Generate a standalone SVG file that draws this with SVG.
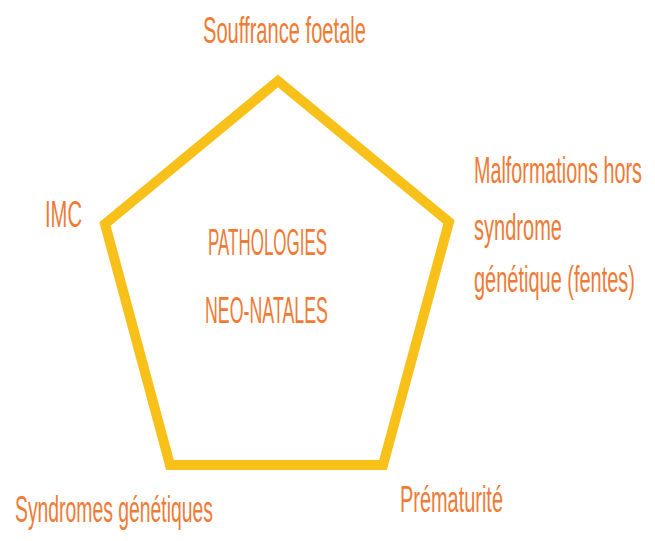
<svg xmlns="http://www.w3.org/2000/svg" width="655" height="541" viewBox="0 0 655 541">
  <style>
    .lbl { font-family: "Liberation Sans", "DejaVu Sans", sans-serif; font-size: 36px; fill: #EE7B36; }
    .edge { fill: none; stroke: #F7C11A; stroke-width: 10; stroke-linejoin: miter; }
  </style>
  <rect width="655" height="541" fill="#FFFFFF"/>
  <g id="connectors">
    <polygon class="edge" points="278,81 449,222 383,465 170,465 105,224"/>
  </g>
  <g id="center">
    <text class="lbl" x="208" y="255" textLength="119" lengthAdjust="spacingAndGlyphs">PATHOLOGIES</text>
    <text class="lbl" x="205" y="323" textLength="123" lengthAdjust="spacingAndGlyphs">NEO-NATALES</text>
  </g>
  <g id="node-souffrance">
    <text class="lbl" x="203" y="43" textLength="163" lengthAdjust="spacingAndGlyphs">Souffrance foetale</text>
  </g>
  <g id="node-malformations">
    <text class="lbl" x="474" y="183" textLength="168" lengthAdjust="spacingAndGlyphs">Malformations hors</text>
    <text class="lbl" x="474" y="240" textLength="88" lengthAdjust="spacingAndGlyphs">syndrome</text>
    <text class="lbl" x="474" y="292" textLength="161" lengthAdjust="spacingAndGlyphs">génétique (fentes)</text>
  </g>
  <g id="node-imc">
    <text class="lbl" x="45" y="227" textLength="37" lengthAdjust="spacingAndGlyphs">IMC</text>
  </g>
  <g id="node-prematurite">
    <text class="lbl" x="400" y="512" textLength="103" lengthAdjust="spacingAndGlyphs">Prématurité</text>
  </g>
  <g id="node-syndromes">
    <text class="lbl" x="15" y="522" textLength="198" lengthAdjust="spacingAndGlyphs">Syndromes génétiques</text>
  </g>
</svg>
